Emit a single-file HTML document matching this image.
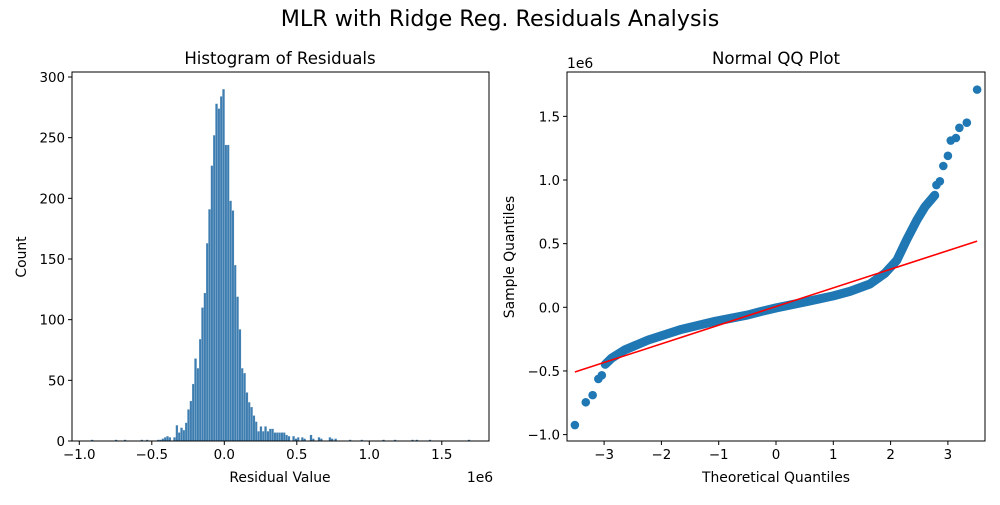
<!DOCTYPE html>
<html><head><meta charset="utf-8"><style>
body{margin:0;background:#fff;}
svg text{font-family:"DejaVu Sans","Liberation Sans",sans-serif;fill:#000;}
</style></head><body>
<svg id="fig" width="1000" height="500" viewBox="0 0 1000 500" xmlns="http://www.w3.org/2000/svg">
<rect width="1000" height="500" fill="#fff"/>
<text x="500" y="26" font-size="22.2" text-anchor="middle">MLR with Ridge Reg. Residuals Analysis</text>
<g id="hist">
<text x="280" y="64" font-size="16.6" text-anchor="middle">Histogram of Residuals</text>
<text x="280" y="482" font-size="13.9" text-anchor="middle">Residual Value</text>
<text x="480" y="482" font-size="13.9" text-anchor="middle">1e6</text>
<text transform="translate(26,257) rotate(-90)" font-size="13.9" text-anchor="middle">Count</text>
</g>
<g id="qq">
<text x="776" y="64" font-size="16.6" text-anchor="middle">Normal QQ Plot</text>
<text x="776" y="482" font-size="13.9" text-anchor="middle">Theoretical Quantiles</text>
<text x="567" y="68" font-size="13.9">1e6</text>
<text transform="translate(514,257) rotate(-90)" font-size="13.9" text-anchor="middle">Sample Quantiles</text>
</g>
</svg>
<script>
// ---- Histogram data ----
const histCenterStart = -0.464;
const histBinWidth = 0.0161;
const histCenterCounts = [1,1,2,3,4,3,0,3,13,7,11,9,15,26,33,47,68,60,84,110,122,163,191,227,252,278,274,284,290,244,244,198,190,145,119,92,60,56,40,32,28,21,16,8,12,8,12,8,10,10,7,7,7,7,7,5,4,0,4,2,3];
const histTailValues = [-0.919,-0.754,-0.692,-0.577,-0.54,0.53,0.546,0.59,0.606,0.645,0.661,0.72,0.736,0.76,0.86,0.94,1.09,1.17,1.29,1.32,1.41,1.68];
const histTailCounts = [1,1,1,1,1,3,2,5,2,3,2,3,2,2,1,1,1,1,1,1,1,1];
const histXTicks = [-1.0,-0.5,0.0,0.5,1.0,1.5];
const histXTickLabels = ["−1.0","−0.5","0.0","0.5","1.0","1.5"];
const histYTicks = [0,50,100,150,200,250,300];
// ---- QQ data ----
const qqBandT = [-2.98,-2.87,-2.64,-2.23,-1.65,-1.06,-0.49,-0.28,0.0,0.59,1.0,1.29,1.64,1.9,2.11,2.28,2.46,2.6,2.77];
const qqBandS = [-0.448,-0.40,-0.335,-0.257,-0.173,-0.11,-0.06,-0.035,-0.005,0.05,0.09,0.125,0.183,0.267,0.37,0.53,0.686,0.79,0.88];
const qqDotT = [-3.51,-3.32,-3.2,-3.1,-3.04,2.8,2.86,2.92,3.0,3.05,3.14,3.2,3.33,3.51];
const qqDotS = [-0.925,-0.746,-0.69,-0.563,-0.534,0.96,0.99,1.11,1.19,1.31,1.33,1.41,1.45,1.71];
const qqLineT = [-3.51,3.51];
const qqLineS = [-0.508,0.52];
const qqXTicks = [-3,-2,-1,0,1,2,3];
const qqXTickLabels = ["−3","−2","−1","0","1","2","3"];
const qqYTicks = [-1.0,-0.5,0.0,0.5,1.0,1.5];
const qqYTickLabels = ["−1.0","−0.5","0.0","0.5","1.0","1.5"];

const NS="http://www.w3.org/2000/svg";
function mk(tag,attrs,parent){const e=document.createElementNS(NS,tag);for(const k in attrs)e.setAttribute(k,attrs[k]);parent.appendChild(e);return e;}
const hist=document.getElementById('hist');
const qq=document.getElementById('qq');

// Histogram axes
const hL=72,hR=489,hT=72,hB=441;
const hx=v=>224.3+v*145;
const hy=c=>hB-c*1.2133;
const barsG=mk('g',{},hist);


function bar(v0,c){
  if(c<=0)return;
  const r=mk('rect',{x:hx(v0),y:hy(c),width:histBinWidth*145,height:hB-hy(c),fill:'#3d7db0',stroke:'#d8e4ee','stroke-width':0.2},barsG);
  
  
}
histCenterCounts.forEach((c,i)=>bar(histCenterStart+i*histBinWidth,c));
histTailValues.forEach((v,i)=>bar(v,histTailCounts[i]));
const hFrame=mk('rect',{x:hL,y:hT,width:hR-hL,height:hB-hT,fill:'none',stroke:'#000','stroke-width':1},hist);


histXTicks.forEach((v,i)=>{
  mk('line',{x1:hx(v),x2:hx(v),y1:hB,y2:hB+4,stroke:'#000'},hist);
  const t=mk('text',{x:hx(v),y:hB+18,'font-size':13.4,'text-anchor':'middle'},hist);
  t.textContent=histXTickLabels[i];
  
  
});
histYTicks.forEach(v=>{
  mk('line',{x1:hL-4,x2:hL,y1:hy(v),y2:hy(v),stroke:'#000'},hist);
  const t=mk('text',{x:hL-7,y:hy(v)+5,'font-size':13.4,'text-anchor':'end'},hist);
  t.textContent=String(v);
  
  
});

// QQ axes
const qL=567,qR=985,qT=72,qB=441;
const qx=t=>776+t*57.3;
const qy=s=>307.3-s*127.3;
const band=mk('polyline',{points:qqBandT.map((t,i)=>qx(t)+','+qy(qqBandS[i])).join(' '),fill:'none',stroke:'#1f77b4','stroke-width':9,'stroke-linecap':'round','stroke-linejoin':'round'},qq);


qqDotT.forEach((t,i)=>{
  const c=mk('circle',{cx:qx(t),cy:qy(qqDotS[i]),r:4.3,fill:'#1f77b4'},qq);
  
  
});
const ln=mk('line',{x1:qx(qqLineT[0]),y1:qy(qqLineS[0]),x2:qx(qqLineT[1]),y2:qy(qqLineS[1]),stroke:'#ff0000','stroke-width':1.6},qq);


const qFrame=mk('rect',{x:qL,y:qT,width:qR-qL,height:qB-qT,fill:'none',stroke:'#000','stroke-width':1},qq);


qqXTicks.forEach((v,i)=>{
  mk('line',{x1:qx(v),x2:qx(v),y1:qB,y2:qB+4,stroke:'#000'},qq);
  const t=mk('text',{x:qx(v),y:qB+18,'font-size':13.4,'text-anchor':'middle'},qq);
  t.textContent=qqXTickLabels[i];
  
  
});
qqYTicks.forEach((v,i)=>{
  mk('line',{x1:qL-4,x2:qL,y1:qy(v),y2:qy(v),stroke:'#000'},qq);
  const t=mk('text',{x:qL-7,y:qy(v)+5,'font-size':13.4,'text-anchor':'end'},qq);
  t.textContent=qqYTickLabels[i];
  
  
});
</script>
</body></html>
